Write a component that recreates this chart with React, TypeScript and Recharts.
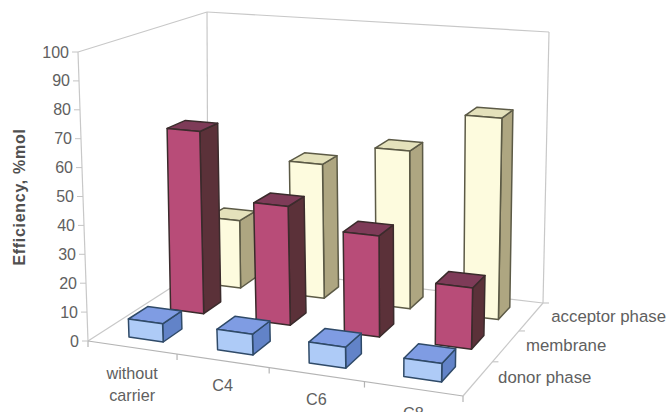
import React from 'react';
import { BarChart, Bar, XAxis, YAxis, Customized } from 'recharts';

const categories = ['without carrier', 'C4', 'C6', 'C8'];
const phases = ['donor phase', 'membrane', 'acceptor phase'];
const donorPhase = [6.3, 7, 7, 6];
const membrane = [66, 42.2, 35.3, 21];
const acceptorPhase = [25.5, 49.8, 57.6, 72.3];
const yTicks = [0, 10, 20, 30, 40, 50, 60, 70, 80, 90, 100];

const rows = categories.map((name, i) => ({
  name,
  donor: donorPhase[i],
  membrane: membrane[i],
  acceptor: acceptorPhase[i],
}));

const W = 670;
const H = 412;
const GREY = '#606060';
const FONT = '"Liberation Sans", Arial, sans-serif';

type Pt = [number, number];
// Corners of the view box: floor and ceiling, front-left, front-right, back-left, back-right.
const floor: Pt[] = [[88, 341], [463, 396], [208, 264], [543, 303]];
const ceiling: Pt[] = [[78, 52], [471, 85], [207, 12], [549, 32]];

// Unit square to quadrilateral perspective mapping.
function homography(q: Pt[]) {
  const [p0, p1, p3, p2] = q; // p0 (0,0), p1 (1,0), p2 (1,1), p3 (0,1)
  const dx1 = p1[0] - p2[0], dx2 = p3[0] - p2[0], sx = p0[0] - p1[0] + p2[0] - p3[0];
  const dy1 = p1[1] - p2[1], dy2 = p3[1] - p2[1], sy = p0[1] - p1[1] + p2[1] - p3[1];
  const den = dx1 * dy2 - dx2 * dy1;
  const g = (sx * dy2 - dx2 * sy) / den;
  const h = (dx1 * sy - sx * dy1) / den;
  const a = p1[0] - p0[0] + g * p1[0], b = p3[0] - p0[0] + h * p3[0];
  const d = p1[1] - p0[1] + g * p1[1], e = p3[1] - p0[1] + h * p3[1];
  return (u: number, w: number): Pt => {
    const z = g * u + h * w + 1;
    return [(a * u + b * w + p0[0]) / z, (d * u + e * w + p0[1]) / z];
  };
}
const floorMap = homography(floor);
const ceilingMap = homography(ceiling);

// u runs along the categories, w into the depth, v up the value axis (all 0..1).
function project(rawU: number, w: number, v: number): Pt {
  // Evens out the spacing along the category axis a little.
  const u = rawU + 0.05 * rawU * (1 - rawU);
  const a = floorMap(u, w);
  const b = ceilingMap(u, w);
  return [a[0] + (b[0] - a[0]) * v, a[1] + (b[1] - a[1]) * v];
}
const pts = (list: Pt[]) => list.map((p) => `${p[0].toFixed(1)},${p[1].toFixed(1)}`).join(' ');

const DEPTH_FILL = 0.45;

type Skin = { front: string; top: string; side: string; edge: string };
const skins: Skin[] = [
  { front: '#aecbf7', top: '#7f9ce3', side: '#6283c8', edge: '#2f4a68' },
  { front: '#b84c78', top: '#7e3b58', side: '#5b3139', edge: '#3b2b2c' },
  { front: '#fdfbde', top: '#e4e1bb', side: '#aea681', edge: '#5c5a46' },
];

// Bar shape: turns the flat rectangle Recharts computes into a box in the view volume.
function Box(props: any) {
  const { x, width, height, phase } = props;
  const nudge = 4 * (1 - x / W);
  const u0 = (x + nudge) / W;
  const u1 = (x + width + nudge) / W;
  const v = height / H;
  const mid = (phase + 0.5) / phases.length;
  const half = DEPTH_FILL / phases.length / 2;
  const w0 = mid - half;
  const w1 = mid + half;
  const s = skins[phase];
  const common = { stroke: s.edge, strokeWidth: 1.5, strokeLinejoin: 'round' as const };
  return (
    <g>
      <polygon {...common} fill={s.side} points={pts([project(u1, w0, 0), project(u1, w1, 0), project(u1, w1, v), project(u1, w0, v)])} />
      <polygon {...common} fill={s.top} points={pts([project(u0, w0, v), project(u1, w0, v), project(u1, w1, v), project(u0, w1, v)])} />
      <polygon {...common} fill={s.front} points={pts([project(u0, w0, 0), project(u1, w0, 0), project(u1, w0, v), project(u0, w0, v)])} />
    </g>
  );
}

const CategoryTick = (props: any) => {
  const { x, payload } = props;
  const p = project(x / W, 0, 0);
  const lines = String(payload.value).split(' ');
  const drop = lines.length > 1 ? 2 : 0;
  return (
    <text textAnchor="middle" fontFamily={FONT} fontSize={16.2} fill={GREY}>
      {lines.map((t, i) => (
        <tspan key={t} x={p[0]} y={p[1] + 30 + i * 22 + drop}>{t}</tspan>
      ))}
    </text>
  );
};

const ValueTick = (props: any) => {
  const { y, payload } = props;
  const p = project(0, 0, 1 - y / H);
  return (
    <g>
      <line x1={p[0] - 6} y1={p[1]} x2={p[0]} y2={p[1]} stroke="#c4c4c4" />
      <text x={p[0] - 9} y={p[1] + 5.5} textAnchor="end" fontFamily={FONT} fontSize={16} fill={GREY}>{payload.value}</text>
    </g>
  );
};

// Walls, floor, tick marks and the depth axis labels.
function Frame() {
  const wire = (a: Pt, b: Pt, color = '#c8c8c8', key?: string) => (
    <line key={key} x1={a[0]} y1={a[1]} x2={b[0]} y2={b[1]} stroke={color} strokeWidth={1.2} />
  );
  return (
    <g>
      {wire(project(0, 0, 0), project(0, 0, 1))}
      {wire(project(0, 0, 1), project(0, 1, 1))}
      {wire(project(0, 1, 1), project(1, 1, 1))}
      {wire(project(1, 1, 1), project(1, 1, 0))}
      {wire(project(0, 1, 1), project(0, 1, 0))}
      {wire(project(0, 1, 0), project(1, 1, 0))}
      {wire(project(0, 1, 0), project(0, 0, 0))}
      {wire(project(0, 0, 0), project(1, 0, 0), '#b4b4b4')}
      {wire(project(1, 0, 0), project(1, 1, 0))}
      {[0, 1, 2, 3, 4].map((i) => {
        const p = project(i / categories.length, 0, 0);
        return wire(p, [p[0], p[1] + 6], '#b4b4b4', `c${i}`);
      })}
      {phases.map((name, i) => {
        const tick = project(1, (i + 1) / phases.length, 0);
        const at = project(1, (i + 0.5) / phases.length, 0);
        return (
          <g key={name}>
            {wire(tick, [tick[0] + 6, tick[1]], '#c8c8c8')}
            <text x={at[0] + 20} y={at[1] + 5} fontFamily={FONT} fontSize={16.8} fill={GREY}>{name}</text>
          </g>
        );
      })}
      <text
        transform="translate(25,197) rotate(-90)"
        textAnchor="middle"
        fontFamily={FONT}
        fontSize={16}
        fontWeight="bold"
        fill="#505050"
        letterSpacing={0.7}
      >
        Efficiency, %mol
      </text>
    </g>
  );
}

export default function App() {
  return (
    <div style={{ position: 'absolute', left: 0, top: 0, width: W, height: H, overflow: 'hidden', background: '#fff' }}>
      <BarChart width={W} height={H} data={rows} margin={{ top: 0, right: 0, bottom: 0, left: 0 }} barCategoryGap="30.5%">
        <Customized component={Frame} />
        <XAxis xAxisId="front" dataKey="name" mirror height={1} axisLine={false} tickLine={false} interval={0} tick={CategoryTick} />
        <XAxis xAxisId="middle" dataKey="name" hide />
        <XAxis xAxisId="back" dataKey="name" hide />
        <YAxis mirror width={1} domain={[0, 100]} ticks={yTicks} interval={0} axisLine={false} tickLine={false} tick={ValueTick} />
        <Bar xAxisId="back" dataKey="acceptor" isAnimationActive={false} shape={(p: any) => <Box {...p} phase={2} />} />
        <Bar xAxisId="middle" dataKey="membrane" isAnimationActive={false} shape={(p: any) => <Box {...p} phase={1} />} />
        <Bar xAxisId="front" dataKey="donor" isAnimationActive={false} shape={(p: any) => <Box {...p} phase={0} />} />
      </BarChart>
    </div>
  );
}
